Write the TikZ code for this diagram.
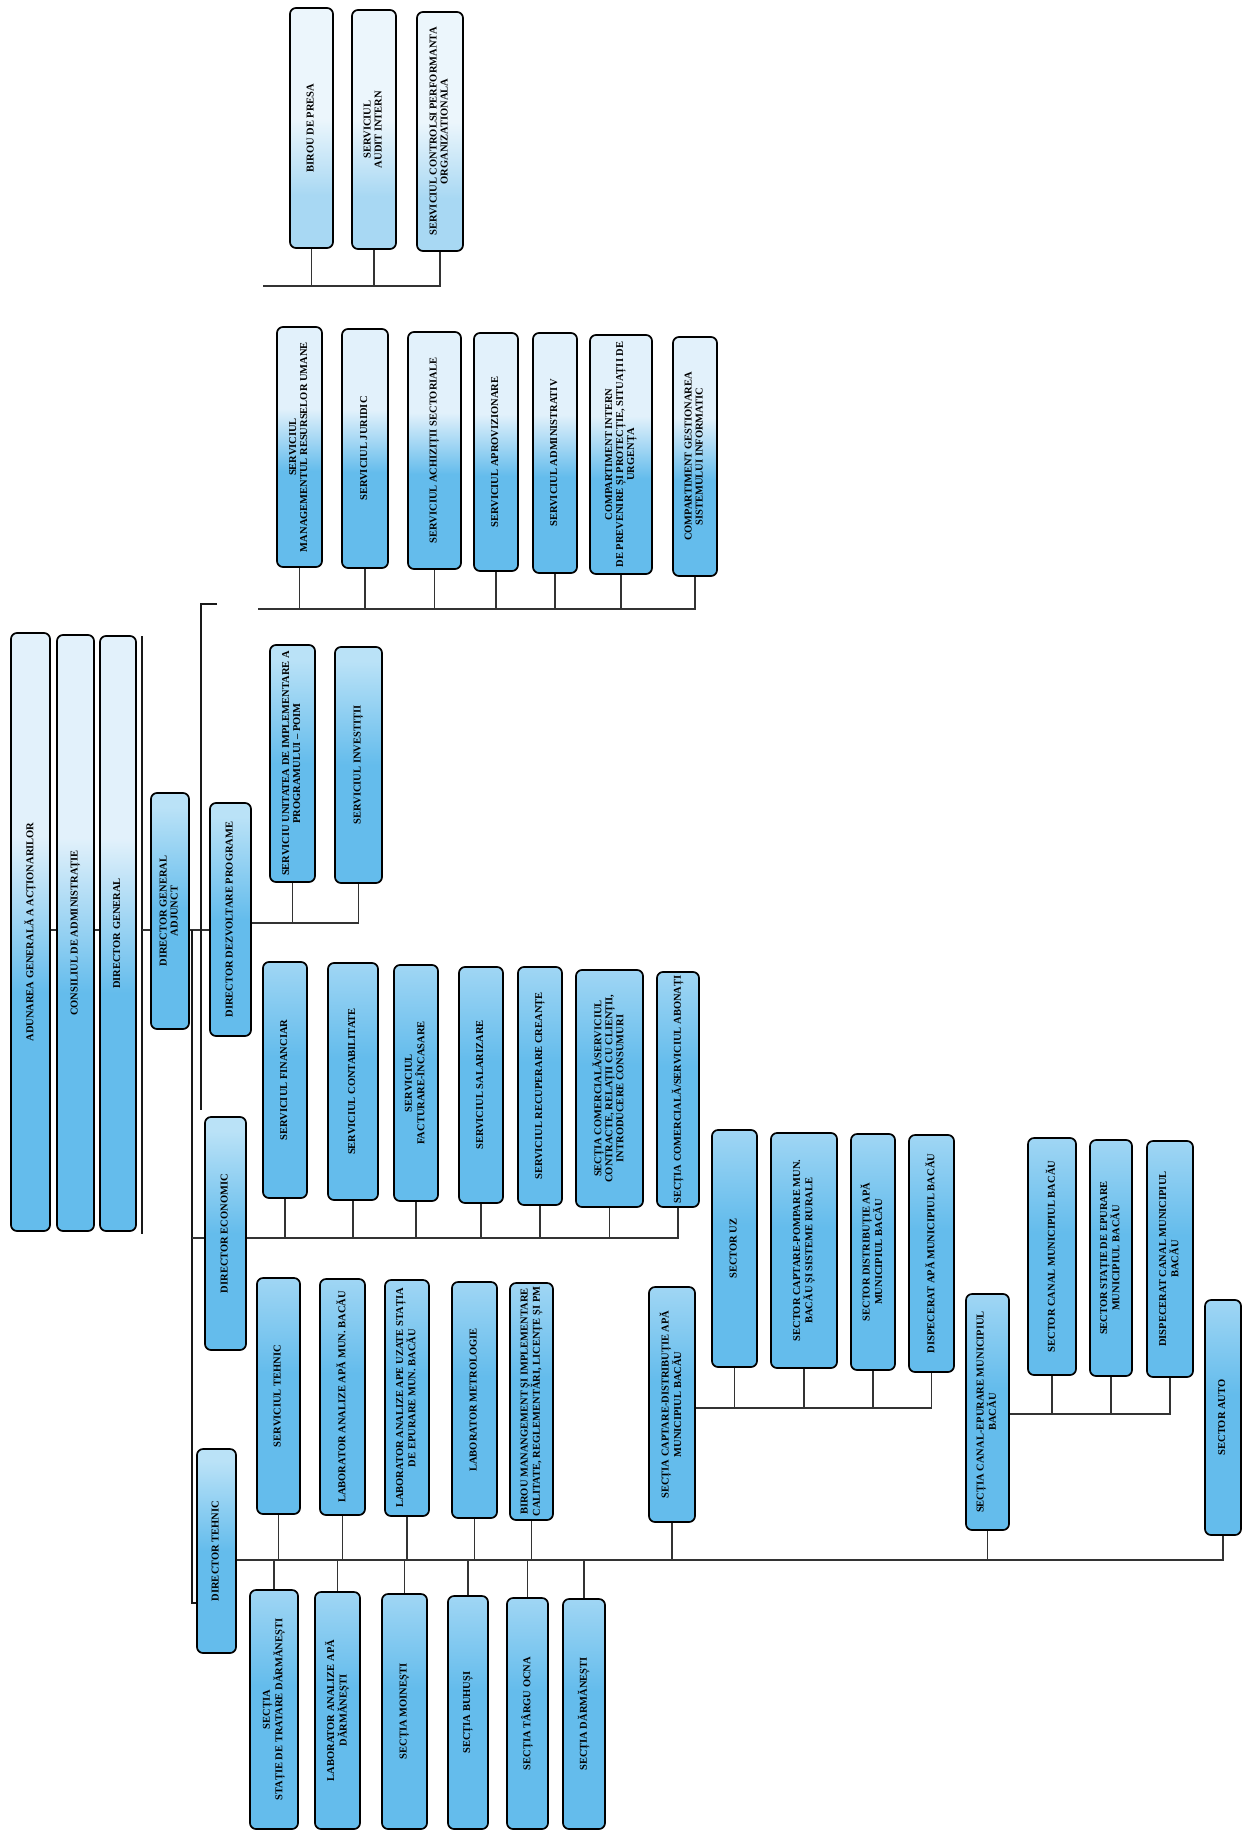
\documentclass[tikz,border=0pt]{standalone}
\usepackage{fontspec}
\setmainfont{Liberation Serif}
\usepackage{graphicx}
\definecolor{cBlue}{RGB}{100,188,236}
\definecolor{cLt}{RGB}{160,214,244}
\definecolor{cPale}{RGB}{226,241,251}
\definecolor{cPale2}{RGB}{236,246,252}
\definecolor{cTop1}{RGB}{168,216,243}
\definecolor{cDirT}{RGB}{186,226,247}
\pgfdeclareverticalshading{shlow}{100bp}{color(0bp)=(cBlue); color(25bp)=(cBlue); color(55bp)=(cBlue); color(75bp)=(cLt); color(100bp)=(cLt)}
\pgfdeclareverticalshading{shmid}{100bp}{color(0bp)=(cBlue); color(25bp)=(cBlue); color(45bp)=(cBlue); color(58bp)=(cPale); color(75bp)=(cPale); color(100bp)=(cPale)}
\pgfdeclareverticalshading{shdir}{100bp}{color(0bp)=(cBlue); color(25bp)=(cBlue); color(50bp)=(cBlue); color(72bp)=(cDirT); color(75bp)=(cDirT); color(100bp)=(cDirT)}
\pgfdeclareverticalshading{shtop}{100bp}{color(0bp)=(cTop1); color(25bp)=(cTop1); color(36bp)=(cTop1); color(52bp)=(cPale2); color(75bp)=(cPale2); color(100bp)=(cPale2)}
\newcommand\rt[1]{\rotatebox{90}{\begin{tabular}{@{}c@{}}#1\end{tabular}}}
\newcommand\obox[7][lowbox]{%
  \pgfmathsetmacro\bxw{#5-#3}%
  \pgfmathsetmacro\bxh{#6-#4}%
  \pgfmathsetmacro\bxcx{(#3+#5)/2}%
  \pgfmathsetmacro\bxcy{(#4+#6)/2}%
  \node[#1, minimum width=\bxw pt, minimum height=\bxh pt] (#2) at (\bxcx,\bxcy) {\rt{#7}};%
}
\begin{document}
\begin{tikzpicture}[x=1pt,y=-1pt,
  base/.style={draw=black, line width=1.7pt, rounded corners=6pt, inner sep=0pt, shade,
    font=\bfseries\fontsize{10.5}{11}\selectfont},
  lowbox/.style={base, shading=shlow},
  midbox/.style={base, shading=shmid},
  dirbox/.style={base, shading=shdir},
  topbox/.style={base, shading=shtop},
  conn/.style={line width=1.4pt, draw=black!80},
  mainln/.style={line width=2.6pt, draw=black!90}]
\useasboundingbox (0,0) rectangle (1242,1833);
\fill[white] (0,0) rectangle (1242,1833);
\renewcommand{\arraystretch}{1}

% top-left chain
\obox[midbox]{aga}{11}{633}{50}{1231}{ADUNAREA GENERALĂ A ACȚIONARILOR}
\obox[midbox]{ca}{57}{635}{94}{1231}{CONSILIUL DE ADMINISTRAȚIE}
\obox[midbox]{dg}{100}{636}{136}{1231}{DIRECTOR GENERAL}
\obox[dirbox]{dga}{151}{793}{189}{1029}{DIRECTOR GENERAL\\ADJUNCT}
\obox[dirbox]{ddp}{210}{803}{251}{1036}{DIRECTOR DEZVOLTARE PROGRAME}
\obox[dirbox]{de}{205}{1117}{246}{1350}{DIRECTOR ECONOMIC}
\obox[dirbox]{dt}{197}{1449}{236}{1653}{DIRECTOR TEHNIC}

% group B (top right)
\obox[topbox]{b1}{290}{8}{333}{248}{BIROU DE PRESA}
\obox[topbox]{b2}{352}{10}{396}{249}{SERVICIUL\\AUDIT INTERN}
\obox[topbox]{b3}{417}{12}{463}{251}{SERVICIUL CONTROLSI PERFORMANTA\\ORGANIZATIONALA}

% group M
\obox[midbox]{m1}{277}{327}{322}{567}{SERVICIUL\\MANAGEMENTUL RESURSELOR UMANE}
\obox[midbox]{m2}{342}{329}{388}{568}{SERVICIUL JURIDIC}
\obox[midbox]{m3}{408}{332}{461}{569}{SERVICIUL ACHIZIȚII SECTORIALE}
\obox[midbox]{m4}{474}{333}{518}{571}{SERVICIUL APROVIZIONARE}
\obox[midbox]{m5}{533}{333}{577}{573}{SERVICIUL ADMINISTRATIV}
\obox[midbox]{m6}{590}{335}{652}{574}{COMPARTIMENT INTERN\\DE PREVENIRE ȘI PROTECȚIE, SITUAȚII DE\\URGENȚA}
\obox[midbox]{m7}{673}{337}{717}{576}{COMPARTIMENT GESTIONAREA\\SISTEMULUI INFORMATIC}

% group U
\obox[dirbox]{u1}{270}{645}{315}{882}{SERVICIU UNITATEA DE IMPLEMENTARE A\\PROGRAMULUI – POIM}
\obox[dirbox]{u2}{335}{647}{382}{883}{SERVICIUL INVESTIȚII}

% group E
\obox{e1}{263}{962}{307}{1198}{SERVICIUL FINANCIAR}
\obox{e2}{328}{963}{378}{1200}{SERVICIUL CONTABILITATE}
\obox{e3}{394}{965}{438}{1201}{SERVICIUL\\FACTURARE-ÎNCASARE}
\obox{e4}{459}{967}{503}{1203}{SERVICIUL SALARIZARE}
\obox{e5}{518}{967}{562}{1205}{SERVICIUL RECUPERARE CREANȚE}
\obox{e6}{576}{970}{643}{1207}{SECȚIA COMERCIALĂ/SERVICIUL\\CONTRACTE, RELAȚII CU CLIENȚII,\\INTRODUCERE CONSUMURI}
\obox{e7}{657}{972}{699}{1207}{SECȚIA COMERCIALĂ/SERVICIUL ABONAȚI}

% group T (upper)
\obox{t1}{257}{1278}{300}{1514}{SERVICIUL TEHNIC}
\obox{t2}{320}{1279}{365}{1515}{LABORATOR ANALIZE APĂ MUN. BACĂU}
\obox{t3}{385}{1280}{429}{1516}{LABORATOR ANALIZE APE UZATE STAȚIA\\DE EPURARE MUN. BACĂU}
\obox{t4}{452}{1282}{497}{1518}{LABORATOR METROLOGIE}
\obox{t5}{510}{1283}{553}{1520}{BIROU MANANGEMENT ȘI IMPLEMENTARE\\CALITATE, REGLEMENTĂRI, LICENȚE ȘI PM}
\obox{t6}{649}{1287}{695}{1522}{SECȚIA CAPTARE-DISTRIBUȚIE APĂ\\MUNICIPIUL BACĂU}
\obox{t7}{966}{1294}{1009}{1530}{SECȚIA CANAL-EPURARE MUNICIPIUL\\BACĂU}
\obox{t8}{1205}{1300}{1241}{1535}{SECTOR AUTO}

% group S (lower)
\obox{s1}{250}{1590}{298}{1829}{SECȚIA\\STAȚIE DE TRATARE DĂRMĂNEȘTI}
\obox{s2}{315}{1592}{360}{1829}{LABORATOR ANALIZE APĂ\\DĂRMĂNEȘTI}
\obox{s3}{382}{1594}{427}{1829}{SECȚIA MOINEȘTI}
\obox{s4}{448}{1596}{488}{1829}{SECȚIA BUHUȘI}
\obox{s5}{507}{1598}{548}{1829}{SECȚIA TÂRGU OCNA}
\obox{s6}{563}{1599}{605}{1829}{SECȚIA DĂRMĂNEȘTI}

% group C
\obox{c1}{712}{1130}{757}{1367}{SECTOR UZ}
\obox{c2}{771}{1133}{837}{1368}{SECTOR CAPTARE-POMPARE MUN.\\BACĂU ȘI SISTEME RURALE}
\obox{c3}{851}{1134}{895}{1370}{SECTOR DISTRIBUȚIE APĂ\\MUNICIPIUL BACĂU}
\obox{c4}{909}{1135}{954}{1372}{DISPECERAT APĂ MUNICIPIUL BACĂU}

% group K
\obox{k1}{1028}{1138}{1076}{1375}{SECTOR CANAL MUNICIPIUL BACĂU}
\obox{k2}{1090}{1140}{1132}{1376}{SECTOR STAȚIE DE EPURARE\\MUNICIPIUL BACĂU}
\obox{k3}{1147}{1141}{1193}{1377}{DISPECERAT CANAL MUNICIPIUL\\BACĂU}

% ---- connectors ----
\coordinate (yc) at (0,930);
\draw[conn] (aga.east |- yc) -- (ca.west |- yc);
\draw[conn] (ca.east |- yc) -- (dg.west |- yc);
\coordinate (dgl1) at (142,636);
\coordinate (dgl2) at (142,1234);
\draw[mainln] (dgl1) -- (dgl2);
\draw[conn] (dgl1 |- yc) -- (dga.west |- yc);
\draw[conn] (dga.east |- yc) -- (ddp.west |- yc);

% bracket line A
\coordinate (A0) at (217,604);
\coordinate (A1) at (201,604);
\coordinate (A2) at (201,1110);
\draw[mainln] (A0) -- (A1) -- (A2);
% line B
\coordinate (B0) at (192,930);
\coordinate (B1) at (192,1603);
\draw[mainln] (B0) -- (B1) -- (dt.west |- B1);
\coordinate (yde) at (0,1238);
\draw[conn] (B0 |- yde) -- (de.west |- yde);

% group B bus
\coordinate (bb) at (263,286);
\draw[conn] (bb) -- (b3.south |- bb) -- (b3.south);
\foreach \n in {b1,b2} \draw[conn] (\n.south) -- (\n.south |- bb);

% group M bus
\coordinate (mb) at (258,609);
\draw[conn] (mb) -- (m7.south |- mb) -- (m7.south);
\foreach \n in {m1,m2,m3,m4,m5,m6} \draw[conn] (\n.south) -- (\n.south |- mb);

% group U bus
\coordinate (ub) at (0,923);
\draw[conn] (ddp.east |- ub) -- (u2.south |- ub) -- (u2.south);
\draw[conn] (u1.south) -- (u1.south |- ub);

% group E bus
\draw[conn] (de.east |- yde) -- (e7.south |- yde) -- (e7.south);
\foreach \n in {e1,e2,e3,e4,e5,e6} \draw[conn] (\n.south) -- (\n.south |- yde);

% DT bus
\coordinate (tb) at (0,1560);
\draw[conn] (dt.east |- tb) -- (t8.south |- tb) -- (t8.south);
\foreach \n in {t1,t2,t3,t4,t5,t6,t7} \draw[conn] (\n.south) -- (\n.south |- tb);
\foreach \n in {s1,s2,s3,s4,s5,s6} \draw[conn] (\n.north) -- (\n.north |- tb);

% group C bus
\coordinate (cb) at (0,1408);
\draw[conn] (t6.east |- cb) -- (c4.south |- cb) -- (c4.south);
\foreach \n in {c1,c2,c3} \draw[conn] (\n.south) -- (\n.south |- cb);

% group K bus
\coordinate (kb) at (0,1414);
\draw[conn] (t7.east |- kb) -- (k3.south |- kb) -- (k3.south);
\foreach \n in {k1,k2} \draw[conn] (\n.south) -- (\n.south |- kb);
\end{tikzpicture}
\end{document}
